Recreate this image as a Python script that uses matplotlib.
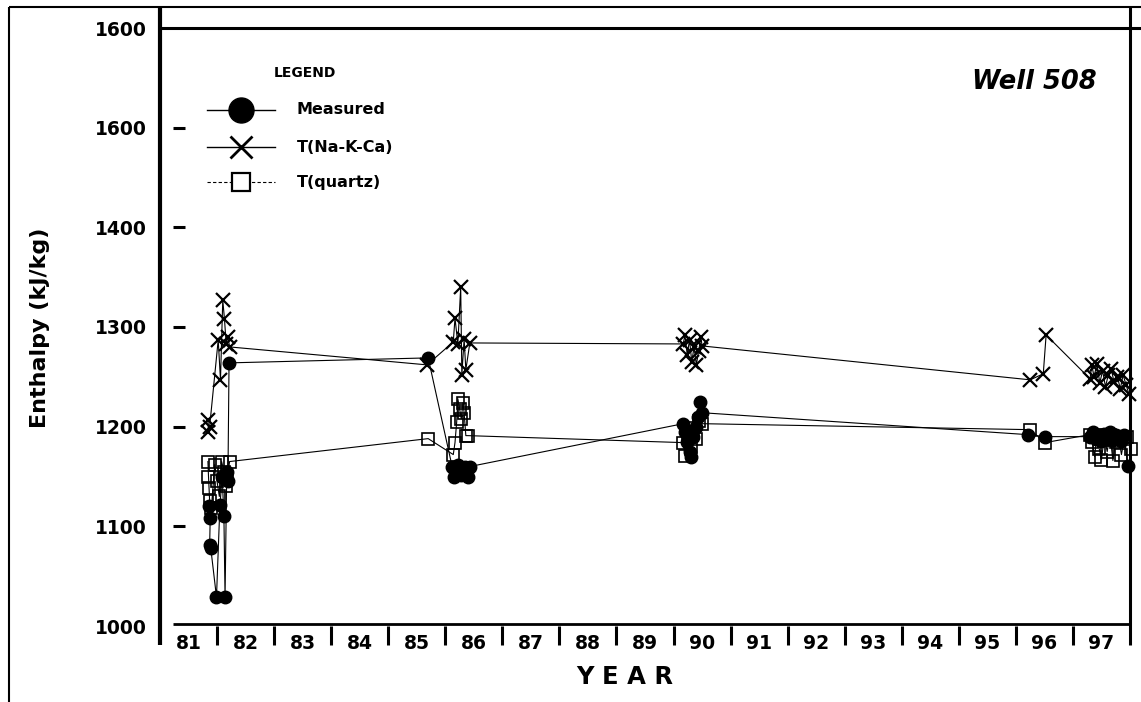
import matplotlib.pyplot as plt
from matplotlib.lines import Line2D

# size of the picture in pixels
W, H = 1141, 702

# Measured enthalpy (year as 81.x etc., kJ/kg)
measured_year = [81.86, 81.88, 81.87, 81.89, 81.99, 82.05, 82.09, 82.12, 82.14, 82.17, 82.19, 82.21,
                 85.70,
                 86.12, 86.15, 86.22, 86.28, 86.35, 86.40, 86.43,
                 90.17, 90.20, 90.24, 90.28, 90.31, 90.35, 90.39, 90.43, 90.47, 90.50,
                 96.21, 96.51,
                 97.30, 97.35, 97.40, 97.45, 97.50, 97.55, 97.60, 97.65, 97.70, 97.75, 97.80, 97.85, 97.90, 97.96]
measured_h = [1120, 1108, 1081, 1078, 1029, 1121, 1150, 1110, 1029, 1155, 1145, 1264,
              1269,
              1160, 1150, 1162, 1152, 1160, 1150, 1160,
              1203, 1195, 1185, 1175, 1170, 1190, 1200, 1210, 1225, 1214,
              1192, 1190,
              1190, 1195, 1188, 1192, 1186, 1193, 1188, 1195, 1187, 1192, 1190, 1186, 1192, 1161]

# T(Na-K-Ca) geothermometer enthalpy
nakca_year = [81.84, 81.85, 81.87, 82.02, 82.06, 82.10, 82.13, 82.16, 82.19, 82.22,
              85.68,
              86.14, 86.17, 86.22, 86.27, 86.29, 86.33, 86.36, 86.43,
              90.17, 90.20, 90.24, 90.28, 90.32, 90.36, 90.40, 90.44, 90.48, 90.50,
              96.25, 96.48, 96.53,
              97.30, 97.33, 97.37, 97.42, 97.47, 97.52, 97.57, 97.62, 97.67, 97.72, 97.78, 97.83, 97.88, 97.93, 97.98]
nakca_h = [1207, 1195, 1200, 1287, 1247, 1327, 1308, 1283, 1290, 1280,
           1262,
           1285, 1309, 1283, 1340, 1252, 1288, 1257, 1284,
           1283, 1292, 1272, 1287, 1265, 1280, 1262, 1276, 1290, 1281,
           1247, 1253, 1292,
           1248, 1262, 1250, 1263, 1244, 1256, 1240, 1252, 1258, 1245, 1250, 1238, 1252, 1242, 1233]

# T(quartz) geothermometer enthalpy
quartz_year = [81.84, 81.85, 81.86, 81.87, 81.90, 81.96, 82.00, 82.04, 82.08, 82.12, 82.15, 82.18, 82.22,
               85.70,
               86.14, 86.17, 86.20, 86.22, 86.25, 86.28, 86.31, 86.33, 86.36, 86.40,
               90.17, 90.20, 90.25, 90.30, 90.35, 90.40, 90.45, 90.50,
               96.25, 96.51,
               97.30, 97.34, 97.38, 97.42, 97.46, 97.50, 97.55, 97.60, 97.65, 97.70, 97.75, 97.80, 97.85, 97.90, 97.95, 98.02]
quartz_h = [1165, 1150, 1138, 1125, 1118, 1162, 1145, 1130, 1165, 1155, 1140, 1150, 1165,
            1188,
            1172, 1184, 1205, 1228, 1218, 1208, 1224, 1214, 1191, 1191,
            1184, 1171, 1193, 1180, 1199, 1188, 1206, 1203,
            1197, 1184,
            1192, 1185, 1170, 1192, 1178, 1167, 1190, 1175, 1192, 1166, 1185, 1190, 1172, 1188, 1190, 1178]

# axis ticks and labels (the original misprints 1500 as 1600)
y_ticks = [1000, 1100, 1200, 1300, 1400, 1500, 1600]
y_labels = ['1000', '1100', '1200', '1300', '1400', '1600', '1600']
year_labels = ['81', '82', '83', '84', '85', '86', '87', '88', '89',
               '90', '91', '92', '93', '94', '95', '96', '97']

legend_labels = ['Measured', 'T(Na-K-Ca)', 'T(quartz)']

BOLD = {'family': 'DejaVu Sans', 'weight': 'bold'}


def fx(px):
    return px / W


def fy(py):
    return 1 - py / H


def fig_line(fig, x0, y0, x1, y1, lw):
    # straight black line given in pixel coordinates
    fig.add_artist(Line2D([fx(x0), fx(x1)], [fy(y0), fy(y1)], color='black',
                          lw=lw, solid_capstyle='butt'))


def draw_frame(fig):
    # outer border of the scanned page
    fig_line(fig, 9, 7, 9, 702, 1.5)
    fig_line(fig, 9, 7, 1141, 7, 1.5)
    # plot box
    fig_line(fig, 160, 7, 160, 645, 3.0)
    fig_line(fig, 160, 28, 1141, 28, 2.2)
    fig_line(fig, 1130, 7, 1130, 645, 2.2)
    fig_line(fig, 173, 624, 1130, 624, 2.0)


def draw_legend(fig):
    fig.text(fx(305), fy(73), 'LEGEND', ha='center', va='center', fontsize=10, **BOLD)

    rows = [110, 147, 182]
    styles = [
        dict(marker='o', ms=18, lw=1.0, ls='-', mfc='black', mew=1),
        dict(marker='x', ms=16, lw=1.0, ls='-', mfc='black', mew=2),
        dict(marker='s', ms=13, lw=0.8, ls=(0, (3, 2)), mfc='white', mew=1.6),
    ]
    for y, st, lab in zip(rows, styles, legend_labels):
        fig.add_artist(Line2D([fx(207), fx(275)], [fy(y), fy(y)], color='black',
                              lw=st['lw'], ls=st['ls']))
        fig.add_artist(Line2D([fx(241)], [fy(y)], color='black', ls='none',
                              marker=st['marker'], ms=st['ms'], mfc=st['mfc'],
                              mec='black', mew=st['mew']))
        fig.text(fx(297), fy(y), lab, ha='left', va='center', fontsize=11.5, **BOLD)


def enthalpy_chart():
    fig = plt.figure(figsize=(W / 100, H / 100), dpi=100)
    ax = fig.add_axes([fx(160), fy(626), (1130 - 160) / W, (626 - 28) / H])

    # the three series, thin black lines
    ax.plot(quartz_year, quartz_h, color='black', lw=0.8, marker='s', ms=8,
            mfc='none', mec='black', mew=1.2, clip_on=False, zorder=3)
    ax.plot(measured_year, measured_h, color='black', lw=0.8, marker='o', ms=9,
            mfc='black', mec='black', clip_on=False, zorder=4)
    ax.plot(nakca_year, nakca_h, color='black', lw=0.8, marker='x', ms=9.5,
            mew=1.6, clip_on=False, zorder=5)

    ax.set_xlim(81, 98)
    ax.set_ylim(1000, 1600)

    for s in ax.spines.values():
        s.set_visible(False)

    # year ticks at the boundaries, labels in the middle of each year
    ax.set_xticks(range(82, 98))
    ax.set_xticks([y + 0.5 for y in range(81, 98)], minor=True)
    ax.set_xticklabels([])
    ax.set_xticklabels(year_labels, minor=True, fontsize=13.5, **BOLD)
    ax.tick_params(axis='x', which='major', length=14, width=2.2, direction='out')
    ax.tick_params(axis='x', which='minor', length=0, pad=6)

    ax.set_yticks(y_ticks)
    ax.set_yticklabels(y_labels, fontsize=13.5, **BOLD)
    ax.tick_params(axis='y', length=0, pad=9.5)

    # little dashes inside the plot instead of tick marks
    for v in y_ticks[1:-1]:
        ax.plot([0.0134, 0.0258], [v, v], color='black', lw=2.2,
                transform=ax.get_yaxis_transform(), solid_capstyle='butt')

    draw_frame(fig)
    draw_legend(fig)

    fig.text(fx(40), fy(328), 'Enthalpy (kJ/kg)', rotation=90, ha='center',
             va='center', fontsize=16, **BOLD)
    fig.text(fx(625), fy(677), 'Y E A R', ha='center', va='center', fontsize=17.5, **BOLD)
    fig.text(fx(1097), fy(82), 'Well 508', ha='right', va='center', fontsize=18.5,
             style='italic', **BOLD)

    fig.savefig('out.png', dpi=100, facecolor='white')


def main():
    enthalpy_chart()


if __name__ == '__main__':
    main()
